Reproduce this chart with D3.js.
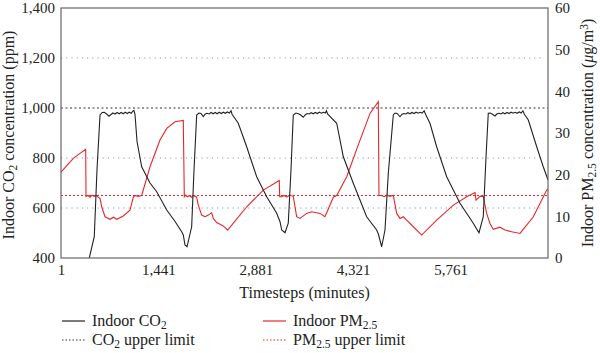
<!DOCTYPE html>
<html>
<head>
<meta charset="utf-8">
<script src="https://cdn.jsdelivr.net/npm/d3@7"></script>
<style>
  body { margin: 0; background: #fff; }
</style>
</head>
<body>
<svg id="chart" width="600" height="353"></svg>
<script>
// timesteps (minutes) and values
const xTicks = [1, 1441, 2881, 4321, 5761]
const co2Ticks = [400, 600, 800, 1000, 1200, 1400]
const pmTicks = [0, 10, 20, 30, 40, 50, 60]
const gridLines = [600, 800, 1200]
const co2Limit = 1000
const pmLimit = 15

// indoor CO2 [minute, ppm]
const co2 = [
  [419, 400], [493, 485], [533, 752], [578, 972], [610, 982], [640, 983], [680, 975], [710, 967],
  [740, 974], [770, 980], [800, 976], [830, 982], [860, 977], [890, 982], [920, 977], [950, 983],
  [980, 978], [1010, 983], [1040, 979], [1065, 988], [1080, 990], [1095, 975], [1125, 866],
  [1194, 765], [1317, 700], [1416, 665], [1564, 592], [1690, 545], [1785, 505], [1809, 492],
  [1834, 452], [1864, 445], [1933, 525], [1967, 750], [2007, 972],
  [2040, 980], [2070, 978], [2105, 966], [2130, 975], [2160, 979], [2190, 976], [2220, 982],
  [2250, 977], [2280, 982], [2310, 977], [2340, 983], [2370, 978], [2400, 983], [2430, 979],
  [2460, 984], [2490, 980], [2515, 989], [2530, 975], [2622, 939], [2746, 845], [2894, 725],
  [3042, 645], [3190, 579], [3239, 545], [3264, 512], [3313, 501], [3361, 539], [3401, 750],
  [3435, 972],
  [3475, 980], [3510, 977], [3545, 972], [3583, 963], [3610, 972], [3640, 978], [3670, 976],
  [3700, 981], [3730, 977], [3760, 982], [3790, 978], [3820, 983], [3850, 979], [3880, 983],
  [3910, 980], [3925, 989], [3945, 975], [4077, 939], [4175, 805], [4322, 699], [4520, 565],
  [4668, 512], [4694, 495], [4742, 445], [4791, 512], [4840, 739], [4914, 972],
  [4940, 980], [4970, 978], [5013, 965], [5040, 974], [5070, 978], [5100, 976], [5130, 981],
  [5160, 977], [5190, 982], [5220, 978], [5250, 983], [5280, 979], [5310, 983], [5340, 980],
  [5370, 989], [5390, 975], [5456, 939], [5555, 845], [5703, 725], [5900, 619], [6096, 539],
  [6181, 501], [6244, 565], [6284, 800], [6318, 979],
  [6345, 980], [6380, 975], [6417, 968], [6445, 976], [6475, 979], [6505, 976], [6535, 981],
  [6565, 977], [6595, 982], [6625, 978], [6655, 983], [6685, 979], [6715, 983], [6745, 979],
  [6775, 984], [6805, 980], [6830, 989], [6850, 976], [6910, 952], [7034, 845], [7131, 765],
  [7201, 712]
]

// indoor PM2.5 [minute, ug/m3]
const pm = [
  [1, 20.6], [183, 23.9], [282, 25.1], [366, 26.1], [371, 14.8], [400, 15.0], [430, 14.6],
  [460, 15.1], [490, 14.8], [520, 15.0], [550, 14.6], [578, 14.3], [603, 12.3], [652, 9.9],
  [726, 9.3], [774, 9.8], [824, 9.3], [922, 10.1], [1021, 11.5], [1070, 14.6], [1100, 15.0],
  [1140, 14.8], [1194, 15.0], [1317, 21.9], [1465, 28.3], [1564, 31.1], [1687, 32.7],
  [1809, 33.0], [1824, 14.7],
  [1840, 15.1], [1870, 14.7], [1900, 15.0], [1930, 14.6], [1960, 15.0], [2006, 14.6],
  [2031, 12.7], [2081, 10.3], [2130, 9.9], [2179, 10.3], [2229, 10.9], [2253, 9.5], [2303, 8.5],
  [2400, 7.7], [2465, 6.7], [2746, 12.3], [2992, 16.3], [3228, 18.6], [3234, 14.7],
  [3264, 14.7], [3300, 15.0], [3340, 14.6], [3380, 15.1], [3435, 14.8], [3485, 9.9], [3534, 9.5],
  [3633, 10.7], [3707, 11.1], [3830, 10.7], [3904, 9.9], [4027, 14.6], [4077, 15.0],
  [4225, 19.5], [4422, 28.3], [4570, 34.7], [4692, 37.5], [4702, 15.0],
  [4740, 15.0], [4780, 14.7], [4820, 15.1], [4860, 14.8], [4914, 15.0], [4964, 10.7],
  [5013, 9.5], [5062, 9.9], [5112, 9.1], [5210, 7.5], [5334, 5.5], [5555, 9.1], [5801, 12.7],
  [5999, 14.7], [6122, 15.7], [6137, 13.9], [6196, 14.8], [6244, 14.8], [6294, 10.7],
  [6343, 8.3], [6392, 6.9], [6490, 7.4], [6565, 6.7], [6664, 6.3], [6787, 5.9], [6984, 9.9],
  [7182, 16.3], [7201, 16.6]
]

const margin = { left: 61, right: 52, top: 8, bottom: 95 }
const width = 600, height = 353
const serif = "Liberation Serif"
const svg = d3.select("#chart").attr("font-family", serif)

let xScale = d3.scaleLinear().domain([1, 7201]).range([margin.left, width - margin.right])
let yScale = d3.scaleLinear().domain([400, 1400]).range([height - margin.bottom, margin.top])
let pmScale = d3.scaleLinear().domain([0, 60]).range([height - margin.bottom, margin.top])

const x0 = xScale.range()[0], x1 = xScale.range()[1]
const yb = yScale.range()[0], yt = yScale.range()[1]

// text with subscripts: parts = [[str, "sub"|"it"|"sup"|null], ...]
function richText(sel, parts) {
    sel.attr("font-family", serif).attr("fill", "#222")
    parts.forEach(function (p) {
        let t = sel.append("tspan").text(p[0])
        if (p[1] == "sub") t.attr("font-size", "0.72em").attr("baseline-shift", "-25%")
        if (p[1] == "sup") t.attr("font-size", "0.72em").attr("baseline-shift", "40%")
        if (p[1] == "it") t.attr("font-style", "italic")
    })
    return sel
}

// grid
svg.append("g").selectAll("line")
    .data(gridLines)
    .enter()
    .append("line")
    .attr("x1", x0).attr("x2", x1 - 7)
    .attr("y1", d => yScale(d)).attr("y2", d => yScale(d))
    .attr("stroke", "#999")
    .attr("stroke-width", 1)
    .attr("stroke-dasharray", "1.2,4")

// limits
svg.append("line")
    .attr("x1", x0).attr("x2", x1)
    .attr("y1", yScale(co2Limit)).attr("y2", yScale(co2Limit))
    .attr("stroke", "#333")
    .attr("stroke-dasharray", "2,2.5")
svg.append("line")
    .attr("x1", x0).attr("x2", x1)
    .attr("y1", pmScale(pmLimit)).attr("y2", pmScale(pmLimit))
    .attr("stroke", "#e8262a")
    .attr("stroke-dasharray", "2,2")

// clip
svg.append("clipPath").attr("id", "plotClip")
    .append("rect").attr("x", x0).attr("y", yt).attr("width", x1 - x0).attr("height", yb - yt)

let co2Line = d3.line().x(d => xScale(d[0])).y(d => yScale(d[1]))
let pmLine = d3.line().x(d => xScale(d[0])).y(d => pmScale(d[1]))

svg.append("path")
    .attr("d", pmLine(pm))
    .attr("clip-path", "url(#plotClip)")
    .attr("fill", "none")
    .attr("stroke", "#e8262a")
    .attr("stroke-width", 1.1)
svg.append("path")
    .attr("d", co2Line(co2))
    .attr("clip-path", "url(#plotClip)")
    .attr("fill", "none")
    .attr("stroke", "#222")
    .attr("stroke-width", 1.1)

// frame
svg.append("rect")
    .attr("x", x0).attr("y", yt).attr("width", x1 - x0).attr("height", yb - yt)
    .attr("fill", "none")
    .attr("stroke", "#666")
    .attr("stroke-width", 1.2)

// axes
let leftAxis = svg.append("g")
    .attr("transform", "translate(" + x0 + ",0)")
    .call(d3.axisLeft(yScale).tickValues(co2Ticks).tickFormat(d3.format(",")).tickSize(0).tickPadding(6))
let rightAxis = svg.append("g")
    .attr("transform", "translate(" + x1 + ",0)")
    .call(d3.axisRight(pmScale).tickValues(pmTicks).tickSize(0).tickPadding(7))
let bottomAxis = svg.append("g")
    .attr("transform", "translate(0," + yb + ")")
    .call(d3.axisBottom(xScale).tickValues(xTicks).tickFormat(d3.format(",")).tickSize(0).tickPadding(6))
;[leftAxis, rightAxis, bottomAxis].forEach(function (a) {
    a.attr("font-family", serif).attr("font-size", 15)
    a.select(".domain").remove()
    a.selectAll("text").attr("fill", "#222")
})

// axis titles
richText(svg.append("text")
    .attr("transform", "translate(14," + ((yt + yb) / 2 + 2) + ") rotate(-90)")
    .attr("text-anchor", "middle")
    .attr("font-size", 16),
    [["Indoor CO", null], ["2", "sub"], [" concentration (ppm)", null]])

richText(svg.append("text")
    .attr("transform", "translate(593," + ((yt + yb) / 2) + ") rotate(-90)")
    .attr("text-anchor", "middle")
    .attr("font-size", 16),
    [["Indoor PM", null], ["2.5", "sub"], [" concentration (", null], ["μ", "it"], ["g/m", null], ["3", "sup"], [")", null]])

richText(svg.append("text")
    .attr("x", (x0 + x1) / 2)
    .attr("y", 298)
    .attr("text-anchor", "middle")
    .attr("font-size", 16),
    [["Timesteps (minutes)", null]])

// legend
const legendItems = [
    { x: 62, y: 321, color: "#222", dash: null, label: [["Indoor CO", null], ["2", "sub"]] },
    { x: 263, y: 321, color: "#e8262a", dash: null, label: [["Indoor PM", null], ["2.5", "sub"]] },
    { x: 62, y: 340, color: "#333", dash: "1.5,2", label: [["CO", null], ["2", "sub"], [" upper limit", null]] },
    { x: 263, y: 340, color: "#e8262a", dash: "1.5,2", label: [["PM", null], ["2.5", "sub"], [" upper limit", null]] }
]
let legend = svg.append("g").selectAll("g")
    .data(legendItems)
    .enter()
    .append("g")
    .attr("transform", d => "translate(" + d.x + "," + d.y + ")")
legend.append("line")
    .attr("x1", 0).attr("x2", 23)
    .attr("y1", 0).attr("y2", 0)
    .attr("stroke", d => d.color)
    .attr("stroke-width", 1.2)
    .attr("stroke-dasharray", d => d.dash)
legend.each(function (d) {
    richText(d3.select(this).append("text")
        .attr("x", 30).attr("y", 5)
        .attr("font-size", 16), d.label)
})
</script>
</body>
</html>
